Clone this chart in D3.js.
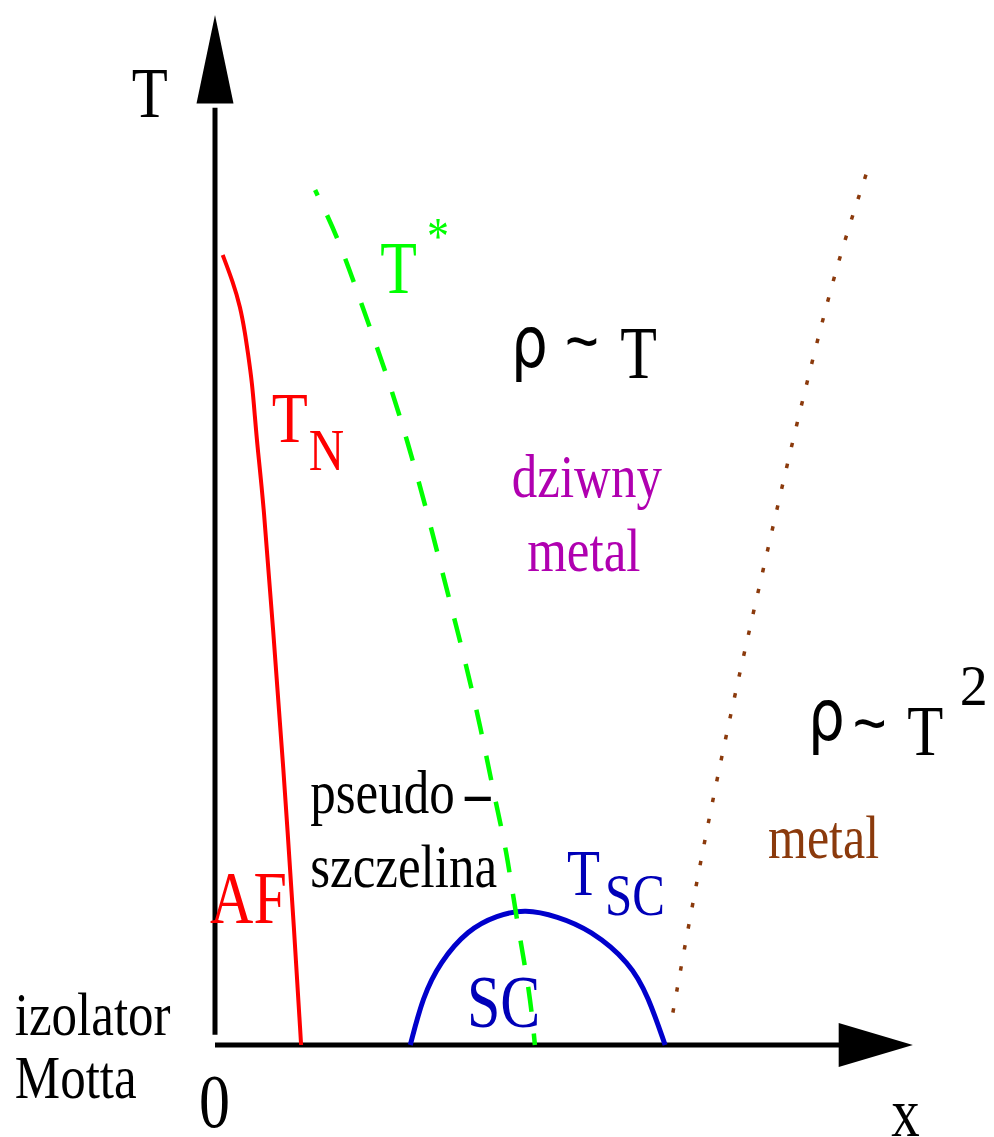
<!DOCTYPE html>
<html>
<head>
<meta charset="utf-8">
<script src="https://cdn.jsdelivr.net/npm/d3@7"></script>
<style>
  html, body { margin: 0; padding: 0; background: #fff; }
  svg { display: block; }
  text { font-family: "Liberation Serif", "Times New Roman", serif; }
</style>
</head>
<body>
<div id="chart"></div>
<script>
// doping x (0..100) vs temperature T (0..100)
const tnX = [1.1, 2.6, 3.6, 4.3, 4.7, 5.3, 5.7, 6.1, 6.9, 8.3, 9.7, 11.4, 12.3];
const tnT = [76.7, 74.0, 71.7, 69.1, 67.2, 64.3, 61.0, 57.8, 52.9, 40.3, 27.7, 10.2, 0];

const tStarX = [14.3, 17.7, 21.0, 24.6, 27.6, 30.4, 33.0, 35.6, 38.0, 40.0, 41.6, 43.1, 45.0, 45.7];
const tStarT = [83.0, 78.2, 71.8, 65.0, 58.4, 51.5, 44.5, 37.7, 30.7, 23.8, 19.1, 12.1, 5.0, 0];

const tscX = [27.9, 29.7, 32.1, 36.1, 40.3, 44.3, 48.9, 53.6, 59.3, 61.9, 64.3];
const tscT = [0, 4.7, 8.0, 11.2, 12.6, 13.2, 12.5, 11.2, 8.0, 4.7, 0];

const crossX = [93.0, 89.1, 85.3, 81.7, 78.3, 74.9, 71.7, 68.7, 65.4];
const crossT = [84.5, 76.4, 66.4, 56.3, 46.1, 36.0, 25.8, 15.5, 3.1];

const W = 994, H = 1137;
const sy = 1.22; // the original lettering is stretched vertically

const svg = d3.select("#chart")
  .append("svg")
  .attr("width", W)
  .attr("height", H);

const x = d3.scaleLinear().domain([0, 100]).range([215, 915]);
const y = d3.scaleLinear().domain([0, 100]).range([1045, 15]);

const line = d3.line()
  .x(d => x(d[0]))
  .y(d => y(d[1]))
  .curve(d3.curveBasis);

const zip = (a, b) => a.map((v, i) => [v, b[i]]);

// axes with arrow heads
svg.append("line")
  .attr("x1", x(0)).attr("y1", y(1))
  .attr("x2", x(0)).attr("y2", y(91))
  .attr("stroke", "#000").attr("stroke-width", 5);

svg.append("path")
  .attr("d", `M${x(0)},${y(100)} L${x(0) - 18.5},${y(91.4)} L${x(0) + 18.5},${y(91.4)} Z`)
  .attr("fill", "#000");

svg.append("line")
  .attr("x1", x(0)).attr("y1", y(0))
  .attr("x2", x(90)).attr("y2", y(0))
  .attr("stroke", "#000").attr("stroke-width", 5);

svg.append("path")
  .attr("d", `M${x(99.7)},${y(0)} L${x(89.1)},${y(0) - 22} L${x(89.1)},${y(0) + 22} Z`)
  .attr("fill", "#000");

// phase lines
svg.append("path")
  .attr("d", line(zip(crossX, crossT)))
  .attr("fill", "none")
  .attr("stroke", "#8b3a0c")
  .attr("stroke-width", 3.5)
  .attr("stroke-dasharray", "4.5,16.9");

svg.append("path")
  .attr("d", line(zip(tscX, tscT)))
  .attr("fill", "none")
  .attr("stroke", "#0000cc")
  .attr("stroke-width", 5);

svg.append("path")
  .attr("d", line(zip(tnX, tnT)))
  .attr("fill", "none")
  .attr("stroke", "#ff0000")
  .attr("stroke-width", 4);

svg.append("path")
  .attr("d", line(zip(tStarX, tStarT)))
  .attr("fill", "none")
  .attr("stroke", "#00ff00")
  .attr("stroke-width", 4.5)
  .attr("stroke-dasharray", "25,22")
  .attr("stroke-dashoffset", 19);

// labels
function label(t, u, v, size, color, opts = {}) {
  const s = opts.sy === undefined ? sy : opts.sy;
  return svg.append("text")
    .attr("transform", `translate(${x(u)},${y(v)}) scale(1,${s})`)
    .style("font-size", size + "px")
    .style("font-family", opts.family || null)
    .style("font-weight", opts.weight || null)
    .attr("fill", color)
    .text(t);
}

label("T", -11.9, 90.1, 59, "#000");

label("T", 23.6, 73.0, 60, "#00ff00");
label("*", 30.3, 76.8, 44, "#00ff00");

label("T", 8.1, 58.5, 59, "#ff0000");
label("N", 13.4, 55.8, 49, "#ff0000");

label("ρ", 42.3, 65.8, 58, "#000", { family: "DejaVu Sans" });
label("~", 50.0, 66.0, 58, "#000", { family: "Liberation Sans" });
label("T", 57.9, 64.8, 60, "#000");

label("dziwny", 42.4, 53.2, 51, "#b000b0");
label("metal", 44.6, 46.0, 51, "#b000b0");

label("ρ", 84.7, 29.6, 58, "#000", { family: "DejaVu Sans" });
label("~", 91.1, 28.9, 58, "#000", { family: "Liberation Sans" });
label("T", 98.9, 28.2, 59, "#000");
label("2", 106.4, 33.0, 56, "#000", { sy: 1.0 });

label("metal", 79.0, 18.2, 50, "#8b3a0c");

label("pseudo", 13.6, 22.5, 51, "#000");
label("\u2013", 35.7, 22.5, 51, "#000", { weight: "bold" });
label("szczelina", 13.6, 15.3, 51, "#000");

label("AF", -0.7, 11.8, 60, "#ff0000");

label("T", 50.3, 14.6, 54, "#0000b8");
label("SC", 55.7, 12.6, 49, "#0000b8");
label("SC", 36.0, 1.7, 60, "#0000b8");

label("izolator", -28.6, 1.0, 51, "#000");
label("Motta", -28.6, -5.1, 51, "#000");

label("0", -2.3, -8.0, 62, "#000");
label("x", 96.6, -8.8, 57, "#000");
</script>
</body>
</html>
